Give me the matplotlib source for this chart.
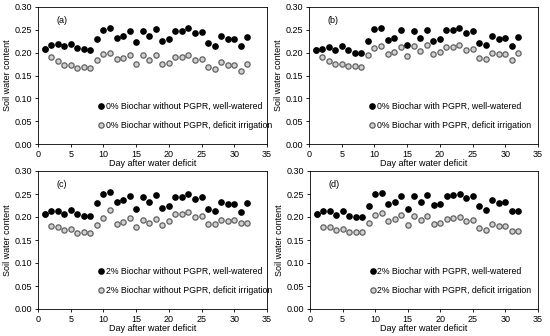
import matplotlib
matplotlib.use("Agg")
import matplotlib.pyplot as plt
import numpy as np

days = list(range(1, 33))

a_ww = [0.207, 0.216, 0.218, 0.214, 0.219, 0.211, 0.207, 0.205, 0.231, 0.250, 0.255, 0.232, 0.237, 0.248, 0.223, 0.248,
        0.236, 0.251, 0.226, 0.229, 0.247, 0.248, 0.253, 0.242, 0.245, 0.221, 0.215, 0.237, 0.231, 0.231, 0.214, 0.234]
a_di = [0.207, 0.191, 0.181, 0.172, 0.174, 0.166, 0.168, 0.166, 0.184, 0.198, 0.200, 0.186, 0.188, 0.195, 0.176, 0.194,
        0.184, 0.194, 0.176, 0.178, 0.191, 0.191, 0.194, 0.184, 0.186, 0.168, 0.165, 0.179, 0.173, 0.172, 0.160, 0.176]

b_ww = [0.206, 0.208, 0.213, 0.206, 0.214, 0.205, 0.200, 0.200, 0.225, 0.252, 0.255, 0.227, 0.233, 0.249, 0.216, 0.248,
        0.232, 0.250, 0.226, 0.230, 0.249, 0.249, 0.255, 0.243, 0.247, 0.222, 0.217, 0.236, 0.231, 0.232, 0.215, 0.235]
b_di = [0.205, 0.191, 0.182, 0.176, 0.176, 0.170, 0.170, 0.169, 0.194, 0.210, 0.214, 0.196, 0.202, 0.213, 0.192, 0.214,
        0.203, 0.217, 0.197, 0.201, 0.213, 0.212, 0.216, 0.206, 0.207, 0.189, 0.186, 0.200, 0.198, 0.197, 0.184, 0.199]

c_ww = [0.206, 0.212, 0.214, 0.207, 0.215, 0.207, 0.202, 0.203, 0.231, 0.249, 0.254, 0.233, 0.238, 0.246, 0.218, 0.244,
        0.232, 0.247, 0.220, 0.224, 0.243, 0.243, 0.250, 0.240, 0.243, 0.218, 0.212, 0.233, 0.228, 0.228, 0.211, 0.231]
c_di = [0.206, 0.180, 0.178, 0.172, 0.173, 0.165, 0.167, 0.166, 0.183, 0.197, 0.215, 0.185, 0.189, 0.197, 0.178, 0.193,
        0.186, 0.196, 0.183, 0.191, 0.206, 0.206, 0.210, 0.201, 0.202, 0.185, 0.185, 0.193, 0.192, 0.194, 0.188, 0.188]

d_ww = [0.206, 0.213, 0.213, 0.204, 0.212, 0.202, 0.199, 0.199, 0.224, 0.249, 0.253, 0.228, 0.232, 0.246, 0.217, 0.246,
        0.233, 0.248, 0.226, 0.229, 0.246, 0.247, 0.251, 0.241, 0.246, 0.223, 0.216, 0.236, 0.231, 0.232, 0.214, 0.214]
d_di = [0.206, 0.178, 0.178, 0.172, 0.173, 0.167, 0.168, 0.167, 0.188, 0.205, 0.208, 0.191, 0.195, 0.204, 0.183, 0.203,
        0.193, 0.202, 0.184, 0.186, 0.196, 0.197, 0.199, 0.191, 0.193, 0.177, 0.171, 0.184, 0.180, 0.180, 0.170, 0.170]

panel_tags = ["(a)", "(b)", "(c)", "(d)"]
labels_ww = ["0% Biochar without PGPR, well-watered", "0% Biochar with PGPR, well-watered",
             "2% Biochar without PGPR, well-watered", "2% Biochar with PGPR, well-watered"]
labels_di = ["0% Biochar without PGPR, deficit irrigation", "0% Biochar with PGPR, deficit irrigation",
             "2% Biochar without PGPR, deficit irrigation", "2% Biochar with PGPR, deficit irrigation"]
ww_sets = [a_ww, b_ww, c_ww, d_ww]
di_sets = [a_di, b_di, c_di, d_di]

W, H = 550, 336
fig = plt.figure(figsize=(W / 100, H / 100), dpi=100)
plt.rcParams['font.family'] = ['Liberation Sans', 'DejaVu Sans']

# axes boxes in pixels: left, top, right, bottom
boxes = [(38, 7, 267, 144), (309, 7, 538, 144), (38, 171, 267, 309), (310, 171, 538, 309)]

for i, (l, t, r, b) in enumerate(boxes):
    ax = fig.add_axes([l / W, 1 - b / H, (r - l) / W, (b - t) / H])
    ax.plot(days, di_sets[i], linestyle='none', marker='o', markersize=3.8,
            markerfacecolor='#d0d0d0', markeredgecolor='#606060', markeredgewidth=0.9,
            label=labels_di[i])
    ax.plot(days, ww_sets[i], linestyle='none', marker='o', markersize=3.8,
            markerfacecolor='black', markeredgecolor='black', label=labels_ww[i])
    ax.set_xlim(0, 35)
    ax.set_ylim(0, 0.30)
    ax.set_xticks(np.arange(0, 36, 5))
    ax.set_yticks(np.arange(0, 0.31, 0.05))
    ax.set_yticklabels([f"{v:.2f}" for v in np.arange(0, 0.31, 0.05)])
    ax.tick_params(labelsize=6.5, length=2.5, width=0.6, pad=1.5, direction='out')
    for s in ax.spines.values():
        s.set_linewidth(0.6)
    ax.set_xlabel("Day after water deficit", fontsize=6.5, labelpad=0.5)
    ax.set_ylabel("Soil water content", fontsize=6.5, labelpad=2)
    ax.text(0.08, 0.9, panel_tags[i], transform=ax.transAxes, fontsize=6.5, ha='left', va='center')
    h, lab = ax.get_legend_handles_labels()
    ax.legend([h[1], h[0]], [lab[1], lab[0]], loc='lower left', bbox_to_anchor=(0.23, 0.06),
              frameon=False, fontsize=6.3, handletextpad=0.0, handlelength=1.0,
              labelspacing=1.1, borderpad=0.2, markerscale=1.0)

fig.savefig("out.png", dpi=100)
